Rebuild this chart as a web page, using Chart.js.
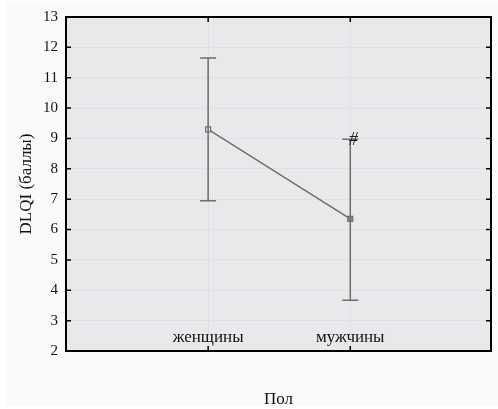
<!DOCTYPE html>
<html>
<head>
<meta charset="utf-8">
<script src="https://cdn.jsdelivr.net/npm/chart.js@4/dist/chart.umd.min.js"></script>
<style>
  html, body { margin: 0; padding: 0; background: #ffffff; }
  #wrap { width: 498px; height: 409px; }
</style>
</head>
<body>
<div id="wrap"><canvas id="chart" width="498" height="409"></canvas></div>
<script>
const categories = ['женщины', 'мужчины'];
const means = [9.3, 6.35];
const upper = [11.65, 8.97];
const lower = [6.95, 3.67];
const notes = ['', '#'];
const yTicks = [2, 3, 4, 5, 6, 7, 8, 9, 10, 11, 12, 13];

const serif = '"Liberation Serif", "Times New Roman", serif';
const lineColor = '#6e6e6e';

// background, frame, inner ticks, error bars, labels
const decor = {
    id: 'decor',
    beforeDraw(chart) {
        const { ctx, chartArea: a } = chart;
        ctx.save();
        ctx.fillStyle = '#fafafa';
        ctx.fillRect(6, 3, chart.width - 6, chart.height - 6);
        ctx.fillStyle = '#e8e9eb';
        ctx.fillRect(a.left, a.top, a.right - a.left, a.bottom - a.top);
        ctx.restore();
    },
    afterDatasetsDraw(chart) {
        const { ctx, chartArea: a, scales: { x, y } } = chart;
        ctx.save();
        // error bars
        ctx.strokeStyle = lineColor;
        ctx.lineWidth = 1.5;
        categories.forEach((c, i) => {
            const px = x.getPixelForValue(i + 1);
            const hi = y.getPixelForValue(upper[i]);
            const lo = y.getPixelForValue(lower[i]);
            ctx.beginPath();
            ctx.moveTo(px, hi); ctx.lineTo(px, lo);
            ctx.moveTo(px - 8, hi); ctx.lineTo(px + 8, hi);
            ctx.moveTo(px - 8, lo); ctx.lineTo(px + 8, lo);
            ctx.stroke();
            if (notes[i]) {
                ctx.fillStyle = '#222';
                ctx.font = 'italic 18px ' + serif;
                ctx.textAlign = 'center';
                ctx.textBaseline = 'middle';
                ctx.fillText(notes[i], px + 3, hi + 1);
            }
            ctx.fillStyle = '#111';
            ctx.font = '17px ' + serif;
            ctx.textAlign = 'center';
            ctx.textBaseline = 'middle';
            ctx.fillText(c, px, a.bottom - 13);
        });
        // frame
        ctx.strokeStyle = '#000';
        ctx.lineWidth = 2;
        ctx.strokeRect(a.left, a.top, a.right - a.left, a.bottom - a.top);
        // inner ticks
        ctx.lineWidth = 1.5;
        ctx.beginPath();
        yTicks.forEach(v => {
            const py = y.getPixelForValue(v);
            ctx.moveTo(a.left, py); ctx.lineTo(a.left + 5, py);
            ctx.moveTo(a.right, py); ctx.lineTo(a.right - 5, py);
        });
        categories.forEach((c, i) => {
            const px = x.getPixelForValue(i + 1);
            ctx.moveTo(px, a.top); ctx.lineTo(px, a.top + 5);
            ctx.moveTo(px, a.bottom); ctx.lineTo(px, a.bottom - 5);
        });
        ctx.stroke();
        ctx.restore();
    }
};

new Chart(document.getElementById('chart'), {
    type: 'line',
    data: {
        datasets: [{
            data: categories.map((c, i) => ({ x: i + 1, y: means[i] })),
            borderColor: lineColor,
            borderWidth: 1.5,
            pointStyle: 'rect',
            pointRadius: 3.5,
            pointBorderWidth: 1.2,
            pointBorderColor: lineColor,
            pointBackgroundColor: ['#e8e9eb', '#8c8c8c']
        }]
    },
    options: {
        responsive: false,
        animation: false,
        layout: { padding: { left: 6, top: 16, right: 7, bottom: 0 } },
        plugins: { legend: { display: false }, tooltip: { enabled: false } },
        scales: {
            x: {
                type: 'linear',
                min: 0,
                max: 2.99,
                afterBuildTicks(scale) {
                    scale.ticks = categories.map((c, i) => ({ value: i + 1 }));
                },
                afterFit(scale) { scale.height = 58; },
                ticks: { display: false },
                grid: { color: '#dfe0e3', lineWidth: 1, drawTicks: false },
                border: { display: false },
                title: {
                    display: true,
                    text: 'Пол',
                    color: '#111',
                    font: { family: serif, size: 17 },
                    padding: { top: 0, bottom: -1 }
                }
            },
            y: {
                min: 2,
                max: 13,
                afterBuildTicks(scale) {
                    scale.ticks = yTicks.map(v => ({ value: v }));
                },
                afterFit(scale) { scale.width = 60; },
                ticks: {
                    color: '#111',
                    font: { family: serif, size: 15 },
                    padding: 8
                },
                grid: { color: '#dfe0e3', lineWidth: 1, drawTicks: false },
                border: { display: false },
                title: {
                    display: true,
                    text: 'DLQI (баллы)',
                    color: '#111',
                    font: { family: serif, size: 17 },
                    padding: { top: 10, bottom: 0 }
                }
            }
        }
    },
    plugins: [decor]
});
</script>
</body>
</html>
